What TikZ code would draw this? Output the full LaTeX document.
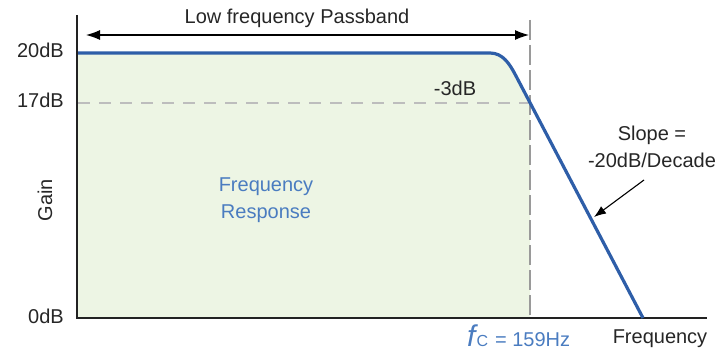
\documentclass[tikz,border=0pt]{standalone}
\usepackage{fontspec}
\setmainfont{Liberation Sans}
\usetikzlibrary{arrows.meta}
\definecolor{fillgreen}{HTML}{EDF5E4}
\definecolor{curveblue}{HTML}{2E5EA8}
\definecolor{textblue}{HTML}{4A7CC0}
\definecolor{dashgray}{HTML}{BDBDBD}
\definecolor{vgray}{HTML}{9A9A9A}
\definecolor{axisgray}{HTML}{222222}
\tikzset{
  lbl/.style={inner sep=0pt, font=\fontsize{20}{23}\selectfont, text=black!85},
  bluelbl/.style={lbl, text=textblue, align=center, font=\fontsize{20}{27}\selectfont},
  axisline/.style={draw=axisgray, line width=2.2pt},
  curve/.style={draw=curveblue, line width=3.2pt},
  hdash/.style={draw=dashgray, line width=1.8pt, dash pattern=on 12pt off 9pt},
  vdash/.style={draw=vgray, line width=1.2pt, dash pattern=on 20pt off 5pt},
  pointer/.style={draw=black, line width=1.1pt, -{Latex[length=12pt,width=9pt]}}
}
\begin{document}
\begin{tikzpicture}[x=1pt,y=-1pt]
\useasboundingbox (0,0) rectangle (725,353);
% fill under the curve, up to fc
\begin{scope}
  \clip (78,0) rectangle (530,318);
  \fill[fillgreen] (78,318) -- (78,53) -- (490,53) .. controls (503,53) and (509.7,64) .. (516,76) -- (643,318) -- cycle;
\end{scope}
% coordinates
\coordinate (ytop) at (77,15);
\coordinate (orig) at (77,318);
\coordinate (xend) at (707,318);
\coordinate (d17a) at (78,103);
\coordinate (d17b) at (530,103);
\coordinate (fctop) at (530,20);
\coordinate (fcbot) at (530,318);
\coordinate (pbL) at (86,35);
\coordinate (pbR) at (529,35);
\coordinate (slopeTip) at (594,217);
% dashed guides
\draw[hdash] (d17a) -- (d17b);
\draw[vdash] (fctop) -- (fcbot);
% axes
\draw[axisline] (ytop) -- (orig) -- (xend);
% response curve
\draw[curve] (78,53) -- (490,53) .. controls (503,53) and (509.7,64) .. (516,76) -- (643,318);
% passband arrow
\draw[draw=black, line width=1.1pt, {Latex[length=14pt,width=10pt]}-{Latex[length=14pt,width=10pt]}] (pbL) -- (pbR);
% labels
\node[lbl] (pb) at (297,18) {Low frequency Passband};
\node[lbl, anchor=east] (l20) at (64,50) {20dB};
\node[lbl, anchor=east] (l17) at (64,100) {17dB};
\node[lbl, anchor=east] (l0) at (64,316) {0dB};
\node[lbl, rotate=90] (gain) at (45,200) {Gain};
\node[lbl] (m3) at (455,88) {-3dB};
\node[bluelbl] (fr) at (266,200) {Frequency\\Response};
\node[lbl, align=center, font=\fontsize{20}{27}\selectfont] (slope) at (652,147) {Slope =\\-20dB/Decade};
\node[lbl] (freq) at (660,339) {Frequency};
\node[lbl, text=textblue, anchor=base west] (fc) at (467,346) {{\fontsize{30}{30}\selectfont\itshape f}\hspace{1pt}{\fontsize{16}{16}\selectfont C}\hspace{7pt}{\fontsize{20}{20}\selectfont = 159Hz}};
% slope pointer
\coordinate (slopeStart) at (644,180);
\draw[pointer] (slopeStart) -- (slopeTip);
\end{tikzpicture}
\end{document}
